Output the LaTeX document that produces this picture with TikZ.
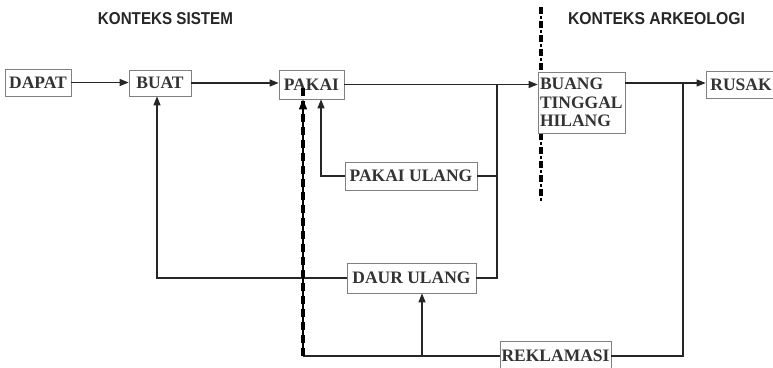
\documentclass[tikz,border=0pt]{standalone}
\usepackage{fontspec}
\setmainfont{Liberation Serif}
\setsansfont{Liberation Sans}
\usepackage{graphicx}
\usetikzlibrary{arrows.meta}
\begin{document}
\begin{tikzpicture}[x=1pt,y=-1pt,
  box/.style={draw=black!50, line width=0.7pt, fill=white, inner sep=0pt, text=black!80,
    font=\bfseries\fontsize{17.5}{18.5}\selectfont},
  conn/.style={draw=black!85, line width=1.2pt},
  arr/.style={conn, -{Triangle[length=9pt,width=7pt]}},
  hdr/.style={inner sep=0pt, text=black!85},
  thickdash/.style={black, line width=3.5pt}]
\useasboundingbox (0,0) rectangle (773,367);

% headers
\node[hdr] (h1) at (165.5,19) {\resizebox{135pt}{12pt}{\sffamily\bfseries KONTEKS SISTEM}};
\node[hdr] (h2) at (656.5,19) {\resizebox{177pt}{12pt}{\sffamily\bfseries KONTEKS ARKEOLOGI}};

% separator
\coordinate (s1) at (541,7);
\coordinate (s2) at (541,202);
\draw[thickdash, dash pattern=on 7pt off 7pt] (s1) -- (s2);
\draw[black, line width=1.2pt, dash pattern=on 3pt off 11pt, dash phase=5pt] (s1) -- (s2);

% boxes
\node[box, minimum width=66pt, minimum height=27pt] (dapat) at (38,82.5) {DAPAT};
\node[box, minimum width=62pt, minimum height=26pt] (buat) at (160,83) {BUAT};
\node[box, minimum width=65pt, minimum height=29pt] (pakai) at (311.5,84.5) {PAKAI};
\node[box, text width=83pt, inner xsep=2pt, minimum height=61pt, align=left] (buang) at (581.5,102.5) {BUANG\\TINGGAL\\HILANG};
\node[box, minimum width=70pt, minimum height=27pt] (rusak) at (741,84.5) {RUSAK};
\node[box, minimum width=132pt, minimum height=28pt] (pu) at (411,176) {PAKAI ULANG};
\node[box, minimum width=129pt, minimum height=30pt] (daur) at (411.5,278) {DAUR ULANG};
\node[box, minimum width=111pt, minimum height=30pt] (rek) at (555.5,356) {REKLAMASI};

% helper coordinates
\coordinate (vx) at (497,0);
\coordinate (px) at (321,0);
\coordinate (bx) at (157,0);
\coordinate (ry) at (0,83);
\coordinate (rx) at (683,0);
\coordinate (dx) at (303,0);
\coordinate (ux) at (422,0);

% connectors
\draw[arr] (dapat.east) -- (dapat.east -| buat.west);
\draw[arr] (buat.east) -- (buat.east -| pakai.west);
\draw[arr] (pakai.east) -- (pakai.east -| buang.west);
\draw[conn] (pakai.east -| vx) -- (daur.east -| vx) -- (daur.east);
\draw[conn] (pu.east) -- (pu.east -| vx);
\draw[arr] (pu.west) -- (pu.west -| px) -- (pakai.south -| px);
\draw[arr] (daur.west) -- (daur.west -| bx) -- (buat.south -| bx);
\draw[arr] (buang.east |- ry) -- (rusak.west |- ry);
\draw[conn] (rek.east) -- (rek.east -| rx) -- (rx |- ry);
\draw[conn] (rek.west) -- (rek.west -| dx);
\draw[thickdash, dash pattern=on 8pt off 5pt] (rek.west -| dx) -- ([yshift=12pt]pakai.south -| dx);
\draw[conn, black, -{Triangle[length=10pt,width=8pt]}] (rek.west -| dx) -- (pakai.south -| dx);
\draw[arr] (rek.west -| ux) -- (daur.south -| ux);
\end{tikzpicture}
\end{document}
